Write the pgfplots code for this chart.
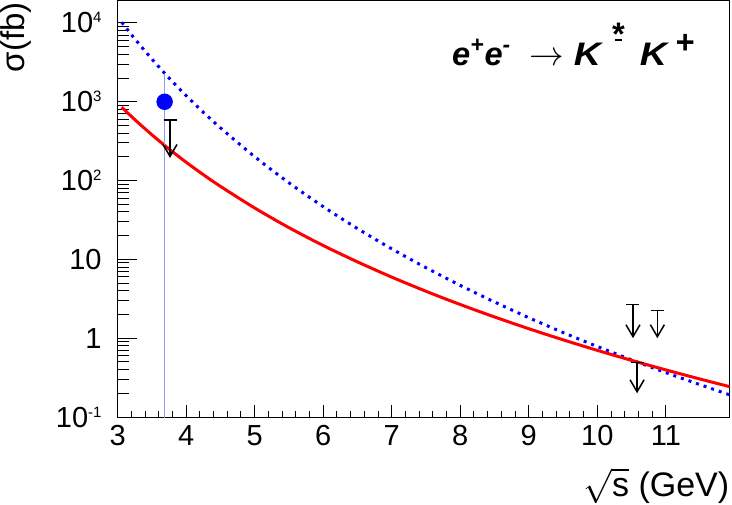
\documentclass[border=0pt]{standalone}
\usepackage{graphicx}
\usepackage{pgfplots}
\pgfplotsset{compat=1.18}
\usepackage{fontspec}
\setmainfont{Liberation Sans}
\usetikzlibrary{arrows.meta}
\definecolor{errblue}{rgb}{0.55,0.6,1}
\newcommand{\tsup}[1]{\raisebox{5pt}{\fontsize{7.5}{8}\selectfont #1}}
\pgfplotstableread{
x y
3.06 854
3.25 595
3.5 381.5
3.75 252
4 171
4.25 119
4.5 84.5
5 44.9
5.5 25.3
6 15.0
6.5 9.30
7 5.96
7.5 3.94
8 2.675
8.5 1.86
9 1.32
9.5 0.954
10 0.701
10.5 0.523
11 0.396
11.5 0.303
11.93 0.243
}\redcurve
\pgfplotstableread{
x y
3.06 10212
3.25 6307
3.5 3486
3.75 2007
4 1198
4.25 737.5
4.5 467
5 201
5.5 93.7
6 46.7
6.5 24.6
7 13.6
7.5 7.84
8 4.68
8.5 2.88
9 1.82
9.5 1.18
10 0.785
10.5 0.531
11 0.366
11.5 0.257
11.93 0.191
}\bluecurve
\begin{document}
\begin{tikzpicture}
% axis 1: x ticks
\begin{axis}[
  at={(0,0)}, anchor=south west,
  scale only axis, width=306pt, height=208pt,
  xmin=3, xmax=11.93, ymin=0, ymax=1,
  tick align=inside,
  axis line style={line width=0.5pt},
  tick style={line width=0.5pt, black},
  xtick={3,...,11}, minor x tick num=4, xtick pos=bottom,
  ytick=\empty,
  major tick length=6pt, minor tick length=3.2pt,
  xticklabel style={yshift=-0.5pt, font=\fontsize{14.5}{16}\selectfont},
  /pgf/number format/assume math mode=true,
]
\end{axis}
% axis 2: y ticks and data
\begin{axis}[
  at={(0,0)}, anchor=south west,
  scale only axis, width=306pt, height=208pt,
  ymode=log,
  xmin=3, xmax=11.93, ymin=0.1, ymax=1.9e4,
  tick align=inside,
  axis line style={line width=0.5pt},
  tick style={line width=0.5pt, black},
  xtick=\empty, ytick pos=left,
  ytick={0.1,1,10,100,1000,10000},
  yticklabels={10\tsup{-1},1,10,10\tsup{2},10\tsup{3},10\tsup{4}},
  major tick length=9.7pt, minor tick length=5.5pt,
  yticklabel style={xshift=-4.5pt, font=\fontsize{14.5}{16}\selectfont},
  clip mode=individual,
]
\addplot[blue, line width=1.5pt, dash pattern=on 1.5pt off 2.5pt, smooth] table[x=x,y=y] {\bluecurve};
\addplot[red, line width=1.5pt, smooth] table[x=x,y=y] {\redcurve};
% measured point with error bar
\addplot[errblue, line width=0.6pt, forget plot] coordinates {(3.686,2270) (3.686,0.05)};
\addplot[only marks, mark=*, mark size=3.9pt, blue, mark options={fill=blue, draw=blue}] coordinates {(3.686,1000)};
% upper limits
\addplot[black, line width=0.75pt, -{Straight Barb[length=6pt,width=7pt]}] coordinates {(3.765,590) (3.765,194)};
\addplot[black, line width=0.75pt] coordinates {(3.67,590) (3.86,590)};
\addplot[black, line width=0.75pt, -{Straight Barb[length=6pt,width=7pt]}] coordinates {(10.52,2.69) (10.52,1.0)};
\addplot[black, line width=0.75pt] coordinates {(10.425,2.69) (10.615,2.69)};
\addplot[black, line width=0.75pt, -{Straight Barb[length=6pt,width=7pt]}] coordinates {(10.876,2.23) (10.876,1.0)};
\addplot[black, line width=0.75pt] coordinates {(10.781,2.23) (10.971,2.23)};
\addplot[black, line width=0.75pt, -{Straight Barb[length=6pt,width=7pt]}] coordinates {(10.58,0.49) (10.58,0.2)};
\addplot[black, line width=0.75pt] coordinates {(10.485,0.49) (10.675,0.49)};
% texts
\node[anchor=base west, font=\bfseries\itshape\fontsize{16.3}{18}\selectfont, inner sep=0pt]
  at (rel axis cs:0.546,0.846)
  {e\textsuperscript{+}e\textsuperscript{-}\hspace{9pt}{\mdseries\upshape\fontsize{17}{18}\selectfont$\rightarrow$}\hspace{5pt}\scalebox{1.15}[1]{K}\hspace{5pt}\rlap{\raisebox{9.75pt}{*}}\hspace{2pt}\raisebox{12pt}{\rule{3.5pt}{1pt}}\hspace{9pt}\scalebox{1.15}[1]{K}\hspace{4pt}\raisebox{6pt}{+}};
\node[anchor=base east, font=\fontsize{17}{19}\selectfont, inner sep=0pt]
  at (rel axis cs:1,-0.192) {$\sqrt{\mbox{s}}$ (GeV)};
\node[anchor=base east, rotate=90, font=\fontsize{16.5}{18}\selectfont, inner sep=0pt]
  at (rel axis cs:-0.1513,0.998) {σ(fb)};
\end{axis}
\pgfresetboundingbox
\useasboundingbox (-58.8pt,-43.5pt) rectangle (307.2pt,208.5pt);
\end{tikzpicture}
\end{document}
